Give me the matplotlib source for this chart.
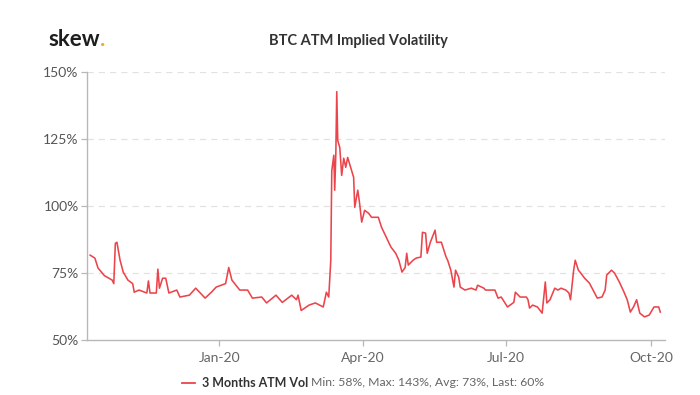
import matplotlib
matplotlib.use("Agg")
import matplotlib.pyplot as plt
import matplotlib.dates as mdates
from matplotlib.lines import Line2D
import pandas as pd

dates = [
    "2019-10-11", "2019-10-14", "2019-10-16", "2019-10-20", "2019-10-25", "2019-10-26",
    "2019-10-27", "2019-10-28", "2019-10-30", "2019-11-01", "2019-11-04", "2019-11-07",
    "2019-11-08", "2019-11-11", "2019-11-16", "2019-11-17", "2019-11-18", "2019-11-22",
    "2019-11-23", "2019-11-24", "2019-11-26", "2019-11-28", "2019-11-30", "2019-12-05",
    "2019-12-07", "2019-12-13", "2019-12-17", "2019-12-23", "2019-12-27", "2019-12-30",
    "2020-01-05", "2020-01-07", "2020-01-09", "2020-01-14", "2020-01-19", "2020-01-22",
    "2020-01-28", "2020-01-31", "2020-02-06", "2020-02-10", "2020-02-16", "2020-02-19",
    "2020-02-20", "2020-02-22", "2020-02-27", "2020-03-02", "2020-03-07", "2020-03-09",
    "2020-03-10 12:00", "2020-03-11 19:00", "2020-03-12 10:00", "2020-03-13 17:00",
    "2020-03-14 07:00", "2020-03-15 00:00", "2020-03-15 14:00", "2020-03-16 05:00",
    "2020-03-17 12:00", "2020-03-18 17:00", "2020-03-20", "2020-03-21 07:00",
    "2020-03-22 12:00", "2020-03-24 10:00", "2020-03-26 07:00", "2020-03-27",
    "2020-03-28 22:00", "2020-03-30 02:00", "2020-03-31 10:00", "2020-04-02 07:00",
    "2020-04-04 19:00", "2020-04-06 17:00", "2020-04-11", "2020-04-13", "2020-04-16",
    "2020-04-19", "2020-04-22", "2020-04-24", "2020-04-26", "2020-04-28", "2020-04-29",
    "2020-04-30", "2020-05-03", "2020-05-05", "2020-05-08", "2020-05-09", "2020-05-11",
    "2020-05-12", "2020-05-14", "2020-05-17", "2020-05-18", "2020-05-21", "2020-05-24",
    "2020-05-25", "2020-05-27", "2020-05-29", "2020-05-30", "2020-06-01", "2020-06-02",
    "2020-06-05", "2020-06-09", "2020-06-12", "2020-06-13", "2020-06-17", "2020-06-18",
    "2020-06-21", "2020-06-24", "2020-06-26", "2020-06-28", "2020-07-02", "2020-07-06",
    "2020-07-07", "2020-07-10", "2020-07-14", "2020-07-15", "2020-07-16", "2020-07-18",
    "2020-07-21", "2020-07-24", "2020-07-26", "2020-07-27", "2020-07-29", "2020-08-01",
    "2020-08-03", "2020-08-05", "2020-08-08", "2020-08-10", "2020-08-11", "2020-08-13",
    "2020-08-14", "2020-08-16", "2020-08-17", "2020-08-20", "2020-08-23", "2020-08-26",
    "2020-08-28", "2020-08-31", "2020-09-02", "2020-09-03", "2020-09-06", "2020-09-08",
    "2020-09-11", "2020-09-14", "2020-09-16", "2020-09-18", "2020-09-20", "2020-09-22",
    "2020-09-24", "2020-09-27", "2020-09-30", "2020-10-03", "2020-10-06", "2020-10-07",
]

vol = [
    81.6, 80.5, 76.8, 74.0, 72.3, 71.0,
    86.0, 86.4, 79.7, 75.3, 72.3, 71.0,
    67.8, 68.6, 67.5, 72.0, 67.5, 67.5,
    76.4, 69.3, 73.0, 73.0, 67.5, 68.6,
    66.0, 66.7, 69.3, 65.6, 67.8, 69.7,
    71.0, 77.0, 72.3, 68.6, 68.6, 65.6,
    66.0, 63.8, 66.7, 64.0, 66.7, 65.0,
    66.7, 61.0, 63.0, 63.8, 62.3, 67.8,
    66.0, 79.7, 113.0, 118.8,
    105.8, 119.5, 142.5, 124.3,
    121.7, 111.3, 117.7, 114.3,
    118.0, 114.3, 110.6, 99.4,
    105.8, 100.9, 93.9, 98.3,
    97.2, 95.7, 95.7, 92.0, 88.3,
    84.6, 82.3, 79.7, 75.3, 77.0, 82.3,
    77.9, 79.7, 80.5, 80.9, 90.1, 89.8,
    82.3, 86.4, 90.9, 86.4, 86.4, 80.9,
    79.7, 76.0, 69.7, 76.0, 73.4, 69.7,
    68.6, 69.3, 68.6, 70.4, 69.3, 68.6,
    68.6, 68.6, 65.6, 66.0, 62.3, 64.0,
    67.8, 66.0, 66.0, 65.0, 61.9, 63.0,
    62.3, 60.0, 71.6, 63.8, 65.0, 69.3,
    68.6, 69.3, 68.6, 67.5, 65.0, 76.0,
    79.7, 76.0, 75.3, 73.0, 71.2, 67.8,
    65.6, 66.0, 68.6, 74.2, 76.0, 74.9,
    71.6, 67.8, 65.0, 60.4, 62.3, 65.0,
    60.0, 58.6, 59.3, 62.3, 62.3, 60.4,
]

yticks = [50, 75, 100, 125, 150]
xticks = ["2020-01-01", "2020-04-01", "2020-07-01", "2020-10-01"]
series_name = "3 Months ATM Vol"
stats_text = "Min: 58%, Max: 143%, Avg: 73%, Last: 60%"
title = "BTC ATM Implied Volatility"

FONT = ["Lato", "DejaVu Sans"]
plt.rcParams["font.family"] = FONT

W, H = 700, 395
fig = plt.figure(figsize=(W / 100, H / 100), dpi=100)
ax = fig.add_axes([87 / W, 1 - 340 / H, (665 - 87) / W, (340 - 71.5) / H])

x = pd.to_datetime(dates, format="mixed")
red = "#ec444b"
ax.plot(x, vol, color=red, lw=1.15, solid_joinstyle="round")

ax.set_ylim(50, 150)
ax.set_xlim(pd.Timestamp("2019-10-09"), pd.Timestamp("2020-10-10"))
ax.set_yticks(yticks)
ax.set_yticklabels([f"{v}%" for v in yticks])
ax.set_xticks(pd.to_datetime(xticks))
ax.xaxis.set_major_formatter(mdates.DateFormatter("%b-%y"))

for v in yticks[1:]:
    ax.axhline(v, color="#e2e2e2", lw=0.9, ls=(0, (5, 4)), zorder=0)

for s in ["top", "right"]:
    ax.spines[s].set_visible(False)
for s in ["left", "bottom"]:
    ax.spines[s].set_color("#b8b8b8")
    ax.spines[s].set_linewidth(1.0)

ax.tick_params(axis="y", length=4, width=0.9, color="#b8b8b8", labelsize=10,
               labelcolor="#555555", pad=2)
ax.tick_params(axis="x", length=4, width=0.9, color="#b8b8b8", labelsize=10,
               labelcolor="#666666", pad=5)

# logo
t1 = fig.text(48 / W, 1 - 40 / H, "skew", fontsize=16, fontweight="bold",
              color="#1e1e1e", va="center", ha="left", family=FONT)
fig.canvas.draw()
r = fig.canvas.get_renderer()
bb = t1.get_window_extent(r)
fig.text(bb.x1 / W + 0.5 / W, 1 - 40 / H, ".", fontsize=16, fontweight="bold",
         color="#f5a623", va="center", ha="left", family=FONT)

fig.text(358 / W, 1 - 41 / H, title, fontsize=10.5, fontweight="bold",
         color="#333333", ha="center", va="center", family=FONT)

# legend
ly = 1 - 383 / H
fig.add_artist(Line2D([182 / W, 195 / W], [ly, ly], color=red, lw=1.3,
                      transform=fig.transFigure))
t2 = fig.text(202 / W, ly, series_name, fontsize=9, fontweight="bold",
              color="#333333", ha="left", va="center", family=FONT)
fig.canvas.draw()
bb2 = t2.get_window_extent(fig.canvas.get_renderer())
fig.text((bb2.x1 + 3) / W, ly, stats_text, fontsize=8.8, color="#666666",
         ha="left", va="center", family=FONT)

fig.savefig("out.png", dpi=100, facecolor="white")
